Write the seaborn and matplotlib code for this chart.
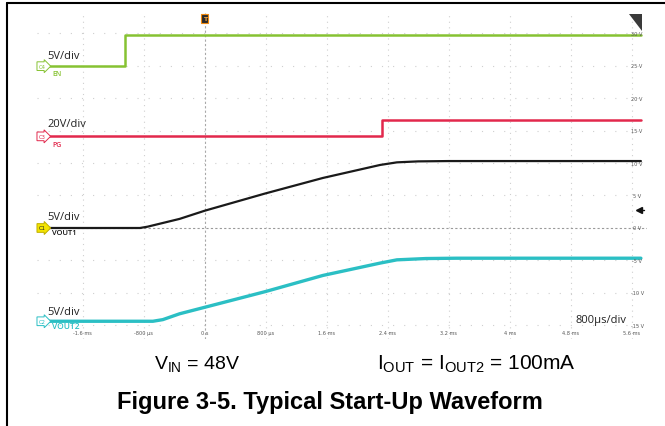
import numpy as np
import pandas as pd
import matplotlib
matplotlib.use("Agg")
import matplotlib.pyplot as plt
from matplotlib.lines import Line2D
from matplotlib.patches import Polygon
from matplotlib.transforms import blended_transform_factory
import seaborn as sns

# Scope captures: time in ms, level in screen volts (right-hand graticule scale)
en_t = [-2.2, -1.04, -1.04, 5.72]
en_v = [24.9, 24.9, 29.7, 29.7]

pg_t = [-2.2, 2.32, 2.32, 5.72]
pg_v = [14.1, 14.1, 16.6, 16.6]

vout1_t = [-2.2, -0.85, -0.75, -0.33, 0.0, 0.79, 1.55, 2.3, 2.52, 2.8, 3.2, 5.72]
vout1_v = [0.0, 0.0, 0.2, 1.4, 2.66, 5.3, 7.7, 9.7, 10.1, 10.25, 10.3, 10.3]

vout2_t = [-2.2, -0.68, -0.55, -0.33, 0.0, 0.79, 1.55, 2.3, 2.52, 2.9, 3.3, 5.72]
vout2_v = [-14.35, -14.35, -14.1, -13.2, -12.2, -9.8, -7.3, -5.4, -4.9, -4.7, -4.65, -4.65]

time_ticks = [-1.6, -0.8, 0.0, 0.8, 1.6, 2.4, 3.2, 4.0, 4.8, 5.6]
time_labels = ["-1.6 ms", "-800 µs", "0 s", "800 µs", "1.6 ms", "2.4 ms",
               "3.2 ms", "4 ms", "4.8 ms", "5.6 ms"]
level_ticks = [30, 25, 20, 15, 10, 5, 0, -5, -10, -15]
level_labels = ["30 V", "25 V", "20 V", "15 V", "10 V", "5 V", "0 V",
                "-5 V", "-10 V", "-15 V"]

channels = ["EN", "PG", "VOUT1", "VOUT2"]
channel_tags = ["C4", "C3", "C1", "C2"]
channel_scales = ["5V/div", "20V/div", "5V/div", "5V/div"]
channel_colors = ["#86c232", "#e2284c", "#1a1a1a", "#2bbfc4"]
channel_widths = [1.8, 1.8, 1.6, 2.4]

frames = []
for name, t, v in [("EN", en_t, en_v), ("PG", pg_t, pg_v),
                   ("VOUT1", vout1_t, vout1_v), ("VOUT2", vout2_t, vout2_v)]:
    frames.append(pd.DataFrame({"t": t, "v": v, "ch": name, "order": range(len(t))}))
df = pd.concat(frames, ignore_index=True)

sns.set_style("white")
plt.rcParams["font.family"] = ["Liberation Sans", "DejaVu Sans"]
plt.rcParams["text.color"] = "black"
plt.rcParams["mathtext.fontset"] = "custom"
plt.rcParams["mathtext.rm"] = "Liberation Sans"
plt.rcParams["mathtext.default"] = "regular"

W, H = 665, 427
fig = plt.figure(figsize=(W / 100, H / 100), dpi=100)
ax_l, ax_r, ax_t, ax_b = 37, 647, 14, 340
ax = fig.add_axes([ax_l / W, 1 - ax_b / H, (ax_r - ax_l) / W, (ax_b - ax_t) / H])

# graticule
for xt in time_ticks:
    if xt == 0.0:
        ax.axvline(xt, color="#a8a8a8", lw=0.8, ls=(0, (2, 2)), zorder=0)
    else:
        ax.axvline(xt, color="#cfcfcf", lw=0.8, ls=(0, (1, 4)), zorder=0)
for yt in level_ticks:
    if yt == 0:
        ax.axhline(yt, color="#9a9a9a", lw=0.8, ls=(0, (2, 2)), zorder=0)
    else:
        ax.axhline(yt, color="#cfcfcf", lw=0.8, ls=(0, (1, 9)), zorder=0)

for name, col, lw in zip(channels, channel_colors, channel_widths):
    sns.lineplot(data=df[df["ch"] == name], x="t", y="v", sort=False,
                 estimator=None, color=col, lw=lw, ax=ax, zorder=3)

ax.set_xlim(-2.2, 5.8)
ax.set_ylim(-17.08, 33.08)
ax.set_xlabel("")
ax.set_ylabel("")
ax.set_xticks([])
ax.set_yticks([])
for s in ax.spines.values():
    s.set_visible(False)

# time-axis labels inside the screen
for xt, lab in zip(time_ticks, time_labels):
    ax.text(xt, -16.15, lab, fontsize=3.6, color="#555555", ha="center",
            va="center", family="DejaVu Sans")
# level labels on the right edge
for yt, lab in zip(level_ticks, level_labels):
    ax.text(5.67, yt, lab, fontsize=3.6, color="#555555", ha="center",
            va="center", family="DejaVu Sans", zorder=4)

# channel tags, names and vertical scales
tr = blended_transform_factory(ax.transAxes, ax.transData)
start_levels = [en_v[0], pg_v[0], vout1_v[0], vout2_v[0]]
scale_y = [0.871, 0.660, 0.377, 0.083]
name_y = [0.813, 0.598, 0.328, 0.040]
name_sizes = [5.0, 5.0, 5.4, 6.0]
for i, name in enumerate(channels):
    col = channel_colors[i]
    if name == "VOUT1":
        fc, ec, tc = "#f3e400", "#bfae00", "#222222"
    else:
        fc, ec, tc = "white", col, col
    ax.text(0.003, start_levels[i], channel_tags[i], transform=tr, fontsize=3.8,
            color=tc, ha="left", va="center", family="DejaVu Sans", zorder=5,
            bbox=dict(boxstyle="rarrow,pad=0.35", fc=fc, ec=ec, lw=0.7))
    ax.text(0.017, scale_y[i], channel_scales[i], transform=ax.transAxes,
            fontsize=8, color="#222222", ha="left", va="center", family="Open Sans")
    ax.text(0.025, name_y[i], name, transform=ax.transAxes, fontsize=name_sizes[i],
            color="#111111" if name == "VOUT1" else col, ha="left", va="center",
            family="Open Sans", fontweight="semibold")

ax.text(0.925, 0.061, "800µs/div", transform=ax.transAxes, fontsize=8,
        color="#222222", ha="center", va="center", family="Open Sans")

# trigger position marker
ax.text(0.0, 0.983, "T", transform=blended_transform_factory(ax.transData, ax.transAxes),
        fontsize=4.5, color="#f3a340", fontweight="bold", ha="center", va="center",
        family="DejaVu Sans", bbox=dict(boxstyle="square,pad=0.25", fc="#2a2a2a",
                                        ec="#f08a10", lw=0.8))
# trigger level arrow
ax.plot([0.987], [0.396], marker="<", ms=5, color="#111111", transform=ax.transAxes,
        clip_on=False)
ax.plot([0.987, 0.995], [0.396, 0.396], color="#111111", lw=1.0, transform=ax.transAxes,
        clip_on=False)
# corner wedge
ax.add_patch(Polygon([[0.9705, 0.997], [0.992, 0.997], [0.992, 0.945]], closed=True,
                     transform=ax.transAxes, fc="#3a3a3a", ec="none", clip_on=False))

# conditions and caption
fig.text(197 / W, 1 - 364 / H, "V$_{IN}$ = 48V", fontsize=14, ha="center", va="center")
fig.text(476 / W, 1 - 364 / H, "I$_{OUT}$ = I$_{OUT2}$ = 100mA", fontsize=15,
         ha="center", va="center")
fig.text(330 / W, 1 - 403 / H, "Figure 3-5. Typical Start-Up Waveform", fontsize=17,
         fontweight="bold", ha="center", va="center")

# outer frame
fig.add_artist(Line2D([7 / W, 1.0], [1 - 4 / H, 1 - 4 / H], color="black", lw=1.5))
fig.add_artist(Line2D([7 / W, 7 / W], [0.0, 1 - 4 / H], color="black", lw=1.5))

fig.savefig("out.png", dpi=100)
